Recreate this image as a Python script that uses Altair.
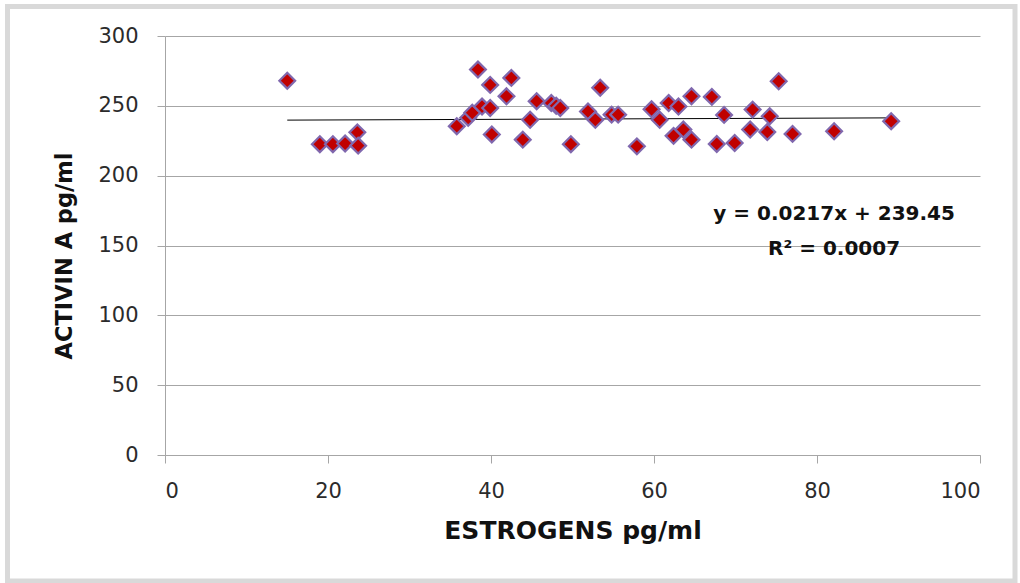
import altair as alt
import pandas as pd

# Estrogens (pg/ml) and Activin A (pg/ml) per subject
estrogens = [15.0, 19.0, 20.6, 22.1, 23.6, 23.7, 35.8, 37.2, 37.7, 38.4,
             38.9, 39.9, 39.9, 40.1, 41.9, 42.5, 43.9, 44.8, 45.6, 47.4,
             48.0, 48.5, 49.8, 51.9, 52.8, 53.4, 54.8, 55.6, 57.9, 59.7,
             60.7, 61.8, 62.4, 63.0, 63.6, 64.6, 64.6, 67.1, 67.7, 68.6,
             69.9, 71.8, 72.1, 73.9, 74.2, 75.3, 77.0, 82.1, 89.1]
activin = [268.0, 222.5, 222.5, 223.0, 231.0, 221.5, 235.4, 241.4, 245.0, 276.0,
           249.5, 248.5, 265.0, 229.5, 256.8, 270.0, 225.8, 240.0, 253.3, 252.0,
           250.0, 248.5, 222.5, 246.0, 240.0, 263.0, 243.7, 243.7, 221.0, 247.5,
           240.0, 252.0, 228.5, 249.5, 233.0, 256.8, 225.8, 256.4, 222.7, 243.5,
           223.4, 233.0, 247.3, 231.3, 242.5, 267.6, 229.9, 231.8, 239.0]

# Linear trend as reported on the chart
slope = 0.0217
intercept = 239.45
r_squared = 0.0007
eq_lines = [f"y = {slope}x + {intercept}", f"R\u00b2 = {r_squared:.4f}"]
eq_x = [82.1, 82.1]
eq_y = [168.5, 143.4]

W, H = 815, 419
PAD = {"left": 165, "top": 36, "right": 40, "bottom": 128}
FONT = "DejaVu Sans"

points = pd.DataFrame({"e": estrogens, "a": activin})
x_lo, x_hi = min(estrogens), max(estrogens)
trend = pd.DataFrame({"e": [x_lo, x_hi],
                      "a": [slope * x_lo + intercept, slope * x_hi + intercept]})
eq = pd.DataFrame({"t": eq_lines, "x": eq_x, "y": eq_y})

xscale = alt.Scale(domain=[0, 100], nice=False)
yscale = alt.Scale(domain=[0, 300], nice=False)

# Outer chart frame (outline only, the page background is white)
frame = alt.Chart(pd.DataFrame({"k": [0]})).mark_rect(
    fill="transparent", stroke="#d9d9d9", strokeWidth=5
).encode(
    x=alt.value(7.5 - PAD["left"]), x2=alt.value(1015 - PAD["left"]),
    y=alt.value(6.5 - PAD["top"]), y2=alt.value(581 - PAD["top"]),
)

scatter = alt.Chart(points).mark_point(
    shape="diamond", filled=True, fill="#c00000", stroke="#8068ae",
    strokeWidth=2.2, size=250, opacity=1
).encode(
    x=alt.X("e:Q", scale=xscale,
            axis=alt.Axis(title="ESTROGENS pg/ml", values=list(range(0, 101, 20)),
                          grid=False, domainColor="#a6a6a6", tickColor="#a6a6a6",
                          tickSize=8, labelPadding=17, labelFontSize=21,
                          labelColor="#2b2b2b", labelFont=FONT,
                          titleFont=FONT, titleFontSize=25, titleFontWeight="bold",
                          titleColor="#111111", titlePadding=17)),
    y=alt.Y("a:Q", scale=yscale,
            axis=alt.Axis(title="ACTIVIN A pg/ml", values=list(range(0, 301, 50)),
                          grid=True, gridColor="#a6a6a6", gridWidth=1,
                          domainColor="#a6a6a6", tickColor="#a6a6a6",
                          tickSize=8, labelPadding=19, labelFontSize=21,
                          labelColor="#2b2b2b", labelFont=FONT,
                          titleFont=FONT, titleFontSize=22.5, titleFontWeight="bold",
                          titleColor="#111111", titlePadding=21,
                          titleY=H / 2 + 10)),
)

line = alt.Chart(trend).mark_line(color="#000000", strokeWidth=1).encode(
    x=alt.X("e:Q", scale=xscale), y=alt.Y("a:Q", scale=yscale)
)

label = alt.Chart(eq).mark_text(
    font=FONT, fontSize=20, fontWeight="bold", color="#111111",
    align="center", baseline="alphabetic"
).encode(
    x=alt.X("x:Q", scale=xscale), y=alt.Y("y:Q", scale=yscale), text="t:N"
)

chart = alt.layer(frame, line, scatter, label).properties(
    width=W, height=H, padding=PAD,
    autosize=alt.AutoSizeParams(type="none"),
    background="white",
).configure_view(stroke=None, clip=False)

chart.save("out.html", embed_options={"renderer": "svg", "actions": False})
